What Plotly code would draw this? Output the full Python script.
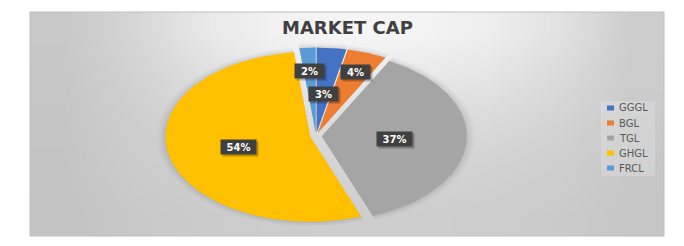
import numpy as np
import plotly.graph_objects as go

# ---------------- data ----------------
CATEGORIES = ["GGGL", "BGL", "TGL", "GHGL", "FRCL"]
VALUES = [3.3, 4.4, 36.6, 53.9, 1.8]
COLORS = ["#4472C4", "#ED7D31", "#A5A5A5", "#FFC000", "#5B9BD5"]
TITLE = "MARKET CAP"
# background grey levels (rows bottom -> top, cols left -> right)
BG_GREYS = [
    [195, 200, 203, 205, 206, 206, 205, 202, 198],
    [196, 203, 207, 210, 212, 212, 210, 206, 199],
    [197, 206, 213, 218, 220, 220, 217, 211, 202],
    [198, 210, 222, 230, 233, 232, 228, 218, 204],
    [200, 214, 232, 242, 245, 244, 238, 226, 205],
]

# ---------------- layout / style ----------------
W, H = 684, 246
CX, CY, RX, RY = 316, 136, 145, 85      # pie centre and radii in pixels
EXPLODE = 0.04
LABEL_R = [0.46, 0.76, 0.50, 0.51, 0.73]  # label distance (fraction of radius)
BOX = (30, 12, 664, 236)                 # chart area box in pixels (l, t, r, b)
FONT = "DejaVu Sans"
SHADOW_LAYERS = [(0.018, 1.055), (0.022, 1.04), (0.028, 1.025), (0.035, 1.012)]


def ux(px):
    return (px - CX) / RX


def uy(py):
    return (CY - py) / RY


def paper_x(px):
    return px / W


def paper_y(py):
    return 1 - py / H


fig = go.Figure()

# background gradient
l, t, r, b = BOX
ncols = len(BG_GREYS[0])
nrows = len(BG_GREYS)
fig.add_trace(go.Heatmap(
    z=BG_GREYS,
    x=np.linspace(ux(l), ux(r), ncols + 1),
    y=np.linspace(uy(b), uy(t), nrows + 1),
    zmin=0, zmax=255, zsmooth="best",
    colorscale=[[0, "rgb(0,0,0)"], [1, "rgb(255,255,255)"]],
    showscale=False, hoverinfo="skip",
))

total = sum(VALUES)
fracs = [v / total for v in VALUES]
starts = np.concatenate([[0], np.cumsum(fracs)[:-1]])


def wedge(f, s, grow=1.0):
    a0, a1 = 2 * np.pi * s, 2 * np.pi * (s + f)
    mid = (a0 + a1) / 2
    ox, oy = EXPLODE * np.sin(mid), EXPLODE * np.cos(mid)
    tt = np.linspace(a0, a1, max(int(f * 360), 2) + 1)
    xs = np.concatenate([[ox], ox + grow * np.sin(tt), [ox]])
    ys = np.concatenate([[oy], oy + grow * np.cos(tt), [oy]])
    return xs, ys, mid, ox, oy


annotations = []
# soft shadow behind pie
for alpha, grow in SHADOW_LAYERS:
    for f, s in zip(fracs, starts):
        xs, ys, _, _, _ = wedge(f, s, grow)
        fig.add_trace(go.Scatter(
            x=xs, y=ys, mode="lines", fill="toself",
            fillcolor=f"rgba(0,0,0,{alpha})", line=dict(width=0),
            hoverinfo="skip", showlegend=False,
        ))

for name, f, s, col, lr in zip(CATEGORIES, fracs, starts, COLORS, LABEL_R):
    xs, ys, mid, ox, oy = wedge(f, s)
    fig.add_trace(go.Scatter(
        x=xs, y=ys, mode="lines", fill="toself", fillcolor=col,
        line=dict(width=0), name=name, hoverinfo="name", showlegend=False,
    ))
    txt = f"{round(f * 100)}%"
    lx, ly = ox + lr * np.sin(mid), oy + lr * np.cos(mid)
    wbox = 6 * len(txt) + 13
    annotations.append(dict(
        x=lx, y=ly, xref="x", yref="y", text=" ", showarrow=False,
        bgcolor="rgba(0,0,0,0.25)", width=wbox, height=10, borderpad=2,
        xshift=2, yshift=-2, font=dict(size=10, family=FONT),
    ))
    annotations.append(dict(
        x=lx, y=ly, xref="x", yref="y", text=f"<b>{txt}</b>", showarrow=False,
        bgcolor="#404040", width=wbox, height=10, borderpad=2,
        font=dict(size=10, family=FONT, color="white"),
    ))

# title
annotations.append(dict(
    x=paper_x(347), y=paper_y(28), xref="paper", yref="paper",
    text=f"<b>{TITLE}</b>", showarrow=False, xanchor="center", yanchor="middle",
    font=dict(size=18, family=FONT, color="#404040"),
))

shapes = [
    dict(type="rect", xref="paper", yref="paper",
         x0=paper_x(l), x1=paper_x(r), y0=paper_y(b), y1=paper_y(t),
         line=dict(color="#BFBFBF", width=1), fillcolor="rgba(0,0,0,0)"),
    # legend box
    dict(type="rect", xref="paper", yref="paper",
         x0=paper_x(601), x1=paper_x(655), y0=paper_y(176), y1=paper_y(101),
         line=dict(width=0), fillcolor="rgba(255,255,255,0.18)"),
]

# legend
for i, (name, col) in enumerate(zip(CATEGORIES, COLORS)):
    yc = 108 + 15 * i
    shapes.append(dict(
        type="rect", xref="paper", yref="paper",
        x0=paper_x(607), x1=paper_x(614), y0=paper_y(yc + 2.5), y1=paper_y(yc - 2.5),
        line=dict(width=0), fillcolor=col,
    ))
    annotations.append(dict(
        x=paper_x(617), y=paper_y(yc), xref="paper", yref="paper",
        text=name, showarrow=False, xanchor="left", yanchor="middle",
        font=dict(size=10, family=FONT, color="#595959"),
    ))

fig.update_layout(
    width=W, height=H,
    margin=dict(l=0, r=0, t=0, b=0),
    paper_bgcolor="white", plot_bgcolor="white",
    showlegend=False,
    xaxis=dict(range=[ux(0), ux(W)], visible=False, fixedrange=True),
    yaxis=dict(range=[uy(H), uy(0)], visible=False, fixedrange=True),
    annotations=annotations,
    shapes=shapes,
)

fig.write_html("out.html")
